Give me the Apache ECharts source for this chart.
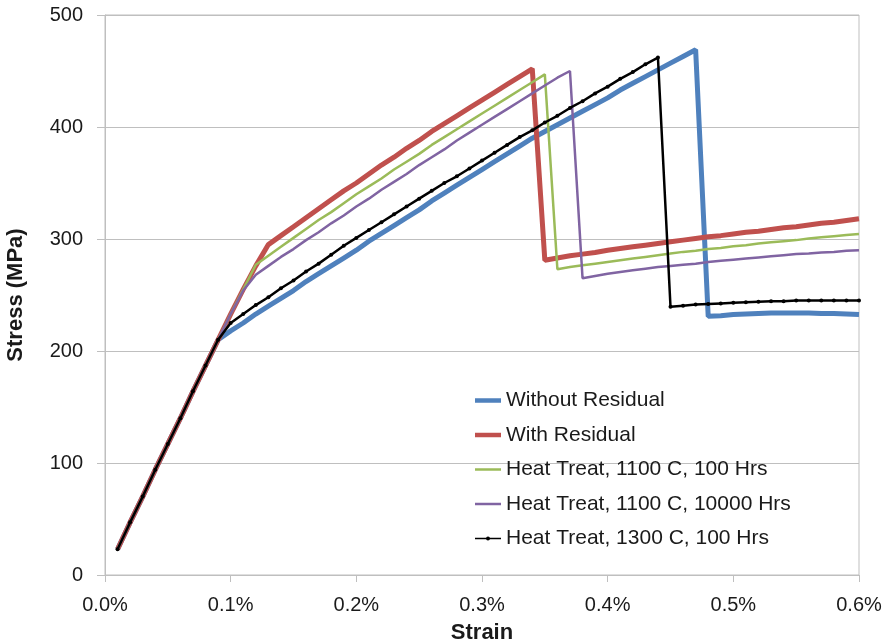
<!DOCTYPE html>
<html>
<head>
<meta charset="utf-8">
<script src="https://cdn.jsdelivr.net/npm/echarts@6/dist/echarts.min.js"></script>
<style>
  html, body { margin: 0; padding: 0; background: #fff; }
  #chart { width: 886px; height: 644px; }
</style>
</head>
<body>
<div id="chart"></div>
<script>
// Strain values in percent, shared by all curves
const strain = [0.01,0.02,0.03,0.04,0.05,0.06,0.07,0.08,0.09,0.10,
  0.11,0.12,0.13,0.14,0.15,0.16,0.17,0.18,0.19,0.20,
  0.21,0.22,0.23,0.24,0.25,0.26,0.27,0.28,0.29,0.30,
  0.31,0.32,0.33,0.34,0.35,0.36,0.37,0.38,0.39,0.40,
  0.41,0.42,0.43,0.44,0.45,0.46,0.47,0.48,0.49,0.50,
  0.51,0.52,0.53,0.54,0.55,0.56,0.57,0.58,0.59,0.60];

// Stress (MPa) for each case
const withoutResidual = [23,47,70,94,117,140,164,187,210,
  218,225,233,240,247,254,262,269,276,283,290,298,305,312,319,326,334,341,348,355,
  362,369,376,383,390,396,402,408,414,420,426,433,439,445,451,457,463,469,
  231,231.5,232.5,233,233.5,234,234,234,234,233.5,233.5,233,232.5];

const withResidual = [23,47,70,94,117,140,164,187,210,
  233,255,276,295,303,311,319,327,335,343,350,358,366,373,381,388,396,403,410,417,
  424,431,438,445,452,
  281,283,285,286.5,288,290,291.5,293,294.5,296,297.5,299,300.5,302,303,304.5,
  306,307,308.5,310,311,312.5,314,315,316.5,318];

const ht1100c100h = [23,47,70,94,117,140,164,187,210,
  233,255,277,285,293,301,309,317,324,332,340,347,354,362,369,376,384,391,398,405,
  412,419,426,433,440,447,
  273,275,276.5,278,279.5,281,282.5,284,285.5,287,288.5,289.5,291,292,293.5,294.5,
  296,297,298,299,300.5,301.5,302.5,303.5,304.5];

const ht1100c10000h = [23,47,70,94,117,140,164,187,210,
  233,254,268,276,284,291,299,306,314,321,329,336,344,351,358,366,373,380,388,395,
  402,409,416,423,430,437,444,450,
  265,267,269,270.5,272,273.5,275,276,277,278,279.5,280.5,281.5,282.5,283.5,284.5,
  285.5,286.5,287,288,288.5,289.5,290];

const ht1300c100h = [23,47,70,94,117,140,164,187,210,
  225,233,241,248,256,263,271,278,286,294,301,308,315,322,329,336,343,350,356,363,
  370,377,384,391,397,404,410,417,423,430,436,443,449,456,462,
  239.5,240.5,241.5,242,242.5,243,243.5,244,244.5,244.5,245,245,245,245,245,245];

const seriesNames = ['Without Residual','With Residual','Heat Treat, 1100 C, 100 Hrs',
  'Heat Treat, 1100 C, 10000 Hrs','Heat Treat, 1300 C, 100 Hrs'];

const pair = (ys) => strain.map((x, i) => [x, ys[i]]);

const FONT = 'Liberation Sans';
const TEXT = '#1a1a1a';
const GRID = '#bfbfbf';

// Legend swatches: plain strokes, thick or thin, the last one with a dot
const ICON_THICK = 'path://M0,0H26V4.5H0Z';
const ICON_THIN = 'path://M0,0H26V2.5H0Z';
const ICON_DOT = 'path://M0,1.2H26V2.8H0Z M11,2a2,2 0 1,1 4,0a2,2 0 1,1 -4,0Z';

const chart = echarts.init(document.getElementById('chart'), null, { renderer: 'canvas' });

chart.setOption({
  animation: false,
  backgroundColor: '#fff',
  textStyle: { fontFamily: FONT },
  grid: {
    left: 105, right: 27, top: 15, bottom: 69,
    outerBoundsMode: 'none',
    show: true, borderColor: GRID, borderWidth: 1
  },
  legend: {
    orient: 'vertical',
    left: 470, top: 385,
    itemWidth: 26, itemHeight: 12, itemGap: 13.5,
    textStyle: { fontFamily: FONT, fontSize: 21, color: TEXT },
    data: [
      { name: seriesNames[0], icon: ICON_THICK },
      { name: seriesNames[1], icon: ICON_THICK },
      { name: seriesNames[2], icon: ICON_THIN },
      { name: seriesNames[3], icon: ICON_THIN },
      { name: seriesNames[4], icon: ICON_DOT }
    ]
  },
  xAxis: {
    type: 'value', min: 0, max: 0.6, interval: 0.1,
    name: 'Strain', nameLocation: 'middle', nameGap: 47,
    nameTextStyle: { fontFamily: FONT, fontSize: 22, fontWeight: 'bold', color: TEXT },
    axisLine: { show: true, lineStyle: { color: GRID, width: 1 } },
    axisTick: { show: true, length: 7, lineStyle: { color: GRID } },
    axisLabel: { fontSize: 20, color: TEXT, margin: 20,
      formatter: (v) => v.toFixed(1) + '%' },
    splitLine: { show: false }
  },
  yAxis: {
    type: 'value', min: 0, max: 500, interval: 100,
    name: 'Stress (MPa)', nameLocation: 'middle', nameGap: 78, nameRotate: 90,
    nameTextStyle: { fontFamily: FONT, fontSize: 22, fontWeight: 'bold', color: TEXT },
    axisLine: { show: true, lineStyle: { color: GRID, width: 1 } },
    axisTick: { show: true, length: 8, lineStyle: { color: GRID } },
    axisLabel: { fontSize: 20, color: TEXT, margin: 22 },
    splitLine: { show: true, lineStyle: { color: GRID, width: 1 } }
  },
  series: [
    { name: seriesNames[0], type: 'line', data: pair(withoutResidual),
      showSymbol: false, symbol: 'none', lineStyle: { color: '#4f81bd', width: 5 },
      itemStyle: { color: '#4f81bd' }, z: 2 },
    { name: seriesNames[1], type: 'line', data: pair(withResidual),
      showSymbol: false, symbol: 'none', lineStyle: { color: '#c0504d', width: 5 },
      itemStyle: { color: '#c0504d' }, z: 3 },
    { name: seriesNames[2], type: 'line', data: pair(ht1100c100h),
      showSymbol: false, symbol: 'none', lineStyle: { color: '#9bbb59', width: 2.5 },
      itemStyle: { color: '#9bbb59' }, z: 4 },
    { name: seriesNames[3], type: 'line', data: pair(ht1100c10000h),
      showSymbol: false, symbol: 'none', lineStyle: { color: '#8064a2', width: 2.5 },
      itemStyle: { color: '#8064a2' }, z: 5 },
    { name: seriesNames[4], type: 'line', data: pair(ht1300c100h),
      showSymbol: true, symbol: 'circle', symbolSize: 4,
      lineStyle: { color: '#000', width: 2.5 },
      itemStyle: { color: '#000' }, z: 6 }
  ]
});
</script>
</body>
</html>
